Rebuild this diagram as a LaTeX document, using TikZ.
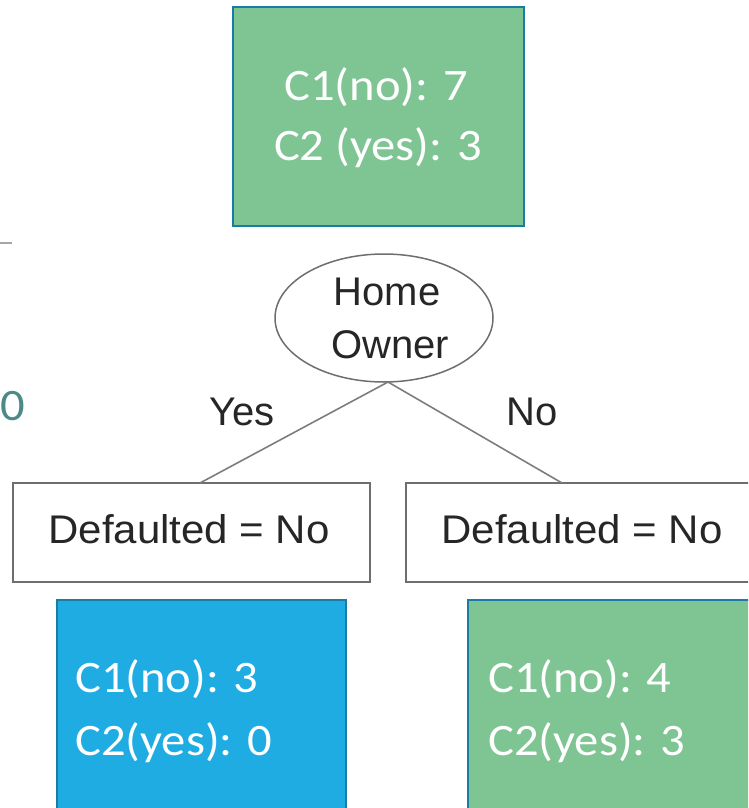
\documentclass[tikz,border=0pt]{standalone}
\usepackage{fontspec}
\usepackage{graphicx}
\usetikzlibrary{shapes.geometric}
\newfontfamily\calfont{Carlito}
\newfontfamily\arifont{Liberation Sans}
\definecolor{boxgreen}{HTML}{7FC493}
\definecolor{boxblue}{HTML}{1EACE3}
\definecolor{boxedge}{HTML}{1A7CA6}
\definecolor{grayedge}{HTML}{6E6E6E}
\definecolor{tealtext}{HTML}{4A8A87}
\newcommand{\cw}[1]{\scalebox{1.08}[1]{#1}}
\newcommand{\aw}[1]{\scalebox{1.05}[1]{#1}}
\tikzset{
  leaf/.style={draw=boxedge, line width=2.4pt, inner sep=0pt},
  ctext/.style={text=white, inner sep=0pt, font=\calfont\fontsize{45}{52}\selectfont},
  atext/.style={text=black!85, inner sep=0pt, font=\arifont\fontsize{40}{48}\selectfont},
  testbox/.style={draw=grayedge, line width=1.8pt, fill=white, inner sep=0pt},
  branch/.style={draw=grayedge!90, line width=1.6pt},
}
\begin{document}
\begin{tikzpicture}[x=1pt,y=-1pt]
\useasboundingbox (0,0) rectangle (748,808);
\clip (0,0) rectangle (748,808);
% top root box
\node[leaf, fill=boxgreen, minimum width=291pt, minimum height=219pt] (root) at (378.5,116.5) {};
\node[ctext, anchor=base] (r1) at (376,100) {\cw{C1(no): 7}};
\node[ctext, anchor=base] (r2) at (378,160) {\cw{C2 (yes): 3}};
% fragments at left edge
\coordinate (fa) at (0,243);
\coordinate (fb) at (12,243);
\draw[gray!70, line width=1.5pt] (fa) -- (fb);
\node[ctext, text=tealtext, anchor=base west] (frag0) at (0,420) {\cw{0}};
% decision tree
\node[ellipse, draw=grayedge, line width=1.5pt, fill=white, minimum width=218pt, minimum height=128pt, inner sep=0pt] (home) at (384,318) {};
\node[atext, anchor=base] (h1) at (387,305) {Home};
\node[atext, anchor=base] (h2) at (390,358) {Owner};
\coordinate (hb) at (388,382);
\node[testbox, minimum width=357pt, minimum height=99pt] (dl) at (191.5,532.5) {};
\node[testbox, minimum width=400pt, minimum height=99pt] (dr) at (606,532.5) {};
\coordinate (dlt) at (200,483);
\coordinate (drt) at (562,483);
\draw[branch] (hb) -- (dlt);
\draw[branch] (hb) -- (drt);
\node[atext, anchor=base] (dlx) at (189,543) {\aw{Defaulted = No}};
\node[atext, anchor=base] (drx) at (582,543) {\aw{Defaulted = No}};
\node[atext, anchor=base] (yes) at (242,425) {Yes};
\node[atext, anchor=base] (no) at (532,425) {No};
% leaves
\node[leaf, fill=boxblue, minimum width=289pt, minimum height=240pt] (lb) at (201.5,720) {};
\node[ctext, anchor=base west] (lb1) at (75,692) {\cw{C1(no): 3}};
\node[ctext, anchor=base west] (lb2) at (75,755) {\cw{C2(yes): 0}};
\node[leaf, fill=boxgreen, minimum width=320pt, minimum height=240pt] (lg) at (628,720) {};
\node[ctext, anchor=base west] (lg1) at (488,692) {\cw{C1(no): 4}};
\node[ctext, anchor=base west] (lg2) at (488,755) {\cw{C2(yes): 3}};
\end{tikzpicture}
\end{document}
